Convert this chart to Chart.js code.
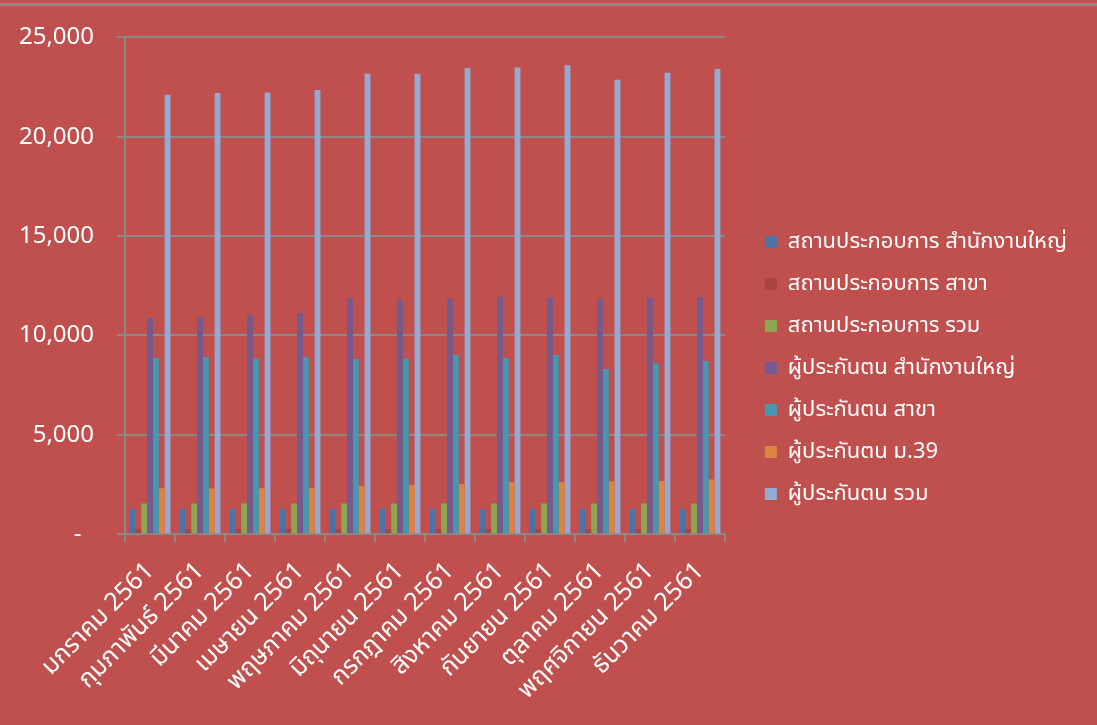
<!DOCTYPE html>
<html>
<head>
<meta charset="utf-8">
<script src="https://cdn.jsdelivr.net/npm/chart.js@4.4.0/dist/chart.umd.min.js"></script>
<style>
  html, body { margin: 0; padding: 0; background: #c0504d; }
  #wrap { position: relative; width: 1097px; height: 725px; overflow: hidden; }
  #topline { position: absolute; left: 0; top: 3px; width: 1097px; height: 3px; background: #8e8a8a; }
  canvas { display: block; }
</style>
</head>
<body>
<div id="wrap">
  <canvas id="chart" width="1097" height="725"></canvas>
  <div id="topline"></div>
</div>
<script>
// --- Data ---
const months = ['มกราคม 2561', 'กุมภาพันธ์ 2561', 'มีนาคม 2561', 'เมษายน 2561', 'พฤษภาคม 2561', 'มิถุนายน 2561',
  'กรกฎาคม 2561', 'สิงหาคม 2561', 'กันยายน 2561', 'ตุลาคม 2561', 'พฤศจิกายน 2561', 'ธันวาคม 2561'];

const seriesNames = ['สถานประกอบการ สำนักงานใหญ่', 'สถานประกอบการ สาขา', 'สถานประกอบการ รวม',
  'ผู้ประกันตน สำนักงานใหญ่', 'ผู้ประกันตน สาขา', 'ผู้ประกันตน ม.39', 'ผู้ประกันตน รวม'];

const estabHq     = [1265, 1265, 1265, 1265, 1265, 1265, 1265, 1265, 1265, 1265, 1265, 1265];
const estabBranch = [265, 265, 265, 265, 265, 265, 265, 265, 265, 265, 265, 265];
const estabTotal  = [1540, 1550, 1540, 1545, 1545, 1545, 1545, 1545, 1545, 1545, 1545, 1545];
const insuredHq     = [10880, 10915, 11015, 11115, 11880, 11800, 11850, 11950, 11915, 11850, 11915, 11930];
const insuredBranch = [8865, 8915, 8830, 8900, 8815, 8830, 9030, 8865, 9015, 8315, 8600, 8715];
const insured39     = [2315, 2300, 2315, 2315, 2430, 2480, 2530, 2615, 2615, 2665, 2680, 2750];
const insuredTotal  = [22115, 22200, 22230, 22350, 23165, 23165, 23465, 23480, 23600, 22865, 23215, 23415];

const yTicks = [0, 5000, 10000, 15000, 20000, 25000];

const seriesColors = ['#4a73a8', '#a94441', '#8da64f', '#735a8f', '#4498af', '#dc853f', '#94a9d3'];
const seriesData = [estabHq, estabBranch, estabTotal, insuredHq, insuredBranch, insured39, insuredTotal];

const gridGray = '#8c8888';
const fontFamily = '"Noto Sans", "Noto Sans Thai", Tahoma, sans-serif';
const LEGEND_DX = 20; // extra space between plot and legend
const LEGEND_DY = -2;

const datasets = seriesNames.map((name, i) => ({
  label: name,
  data: seriesData[i],
  backgroundColor: seriesColors[i],
  borderWidth: 0,
  categoryPercentage: 0.82,
  barPercentage: 1.0,
}));

// push the legend a bit away from the plot area
const legendShift = {
  id: 'legendShift',
  afterLayout(chart) {
    const lg = chart.legend;
    if (!lg) return;
    lg.left += LEGEND_DX; lg.right += LEGEND_DX;
    lg.top += LEGEND_DY; lg.bottom += LEGEND_DY;
  },
};

new Chart(document.getElementById('chart'), {
  type: 'bar',
  data: { labels: months, datasets },
  plugins: [legendShift],
  options: {
    responsive: false,
    animation: false,
    layout: { padding: { left: 20, top: 21, right: 40, bottom: 6 } },
    plugins: {
      legend: {
        position: 'right',
        maxWidth: 420,
        labels: {
          color: '#ffffff',
          font: { size: 22, family: fontFamily },
          boxWidth: 12,
          boxHeight: 12,
          padding: 20,
        },
      },
      tooltip: { enabled: false },
    },
    scales: {
      x: {
        grid: { drawOnChartArea: false, color: gridGray, lineWidth: 2, tickLength: 8 },
        border: { color: gridGray, width: 2 },
        ticks: { color: '#ffffff', font: { size: 25, family: fontFamily }, padding: 14, maxRotation: 45, minRotation: 45, autoSkip: false },
        afterFit: axis => { axis.paddingLeft = 0; },
      },
      y: {
        min: yTicks[0],
        max: yTicks[yTicks.length - 1],
        afterBuildTicks: axis => { axis.ticks = yTicks.map(v => ({ value: v })); },
        afterFit: axis => { axis.width = 105; },
        grid: { color: gridGray, lineWidth: 2, tickLength: 8 },
        border: { color: gridGray, width: 2 },
        ticks: {
          color: '#ffffff',
          font: { size: 24, family: fontFamily },
          padding: 23,
          callback: v => v === 0 ? '-  ' : v.toLocaleString('en-US'),
        },
      },
    },
  },
});
</script>
</body>
</html>
